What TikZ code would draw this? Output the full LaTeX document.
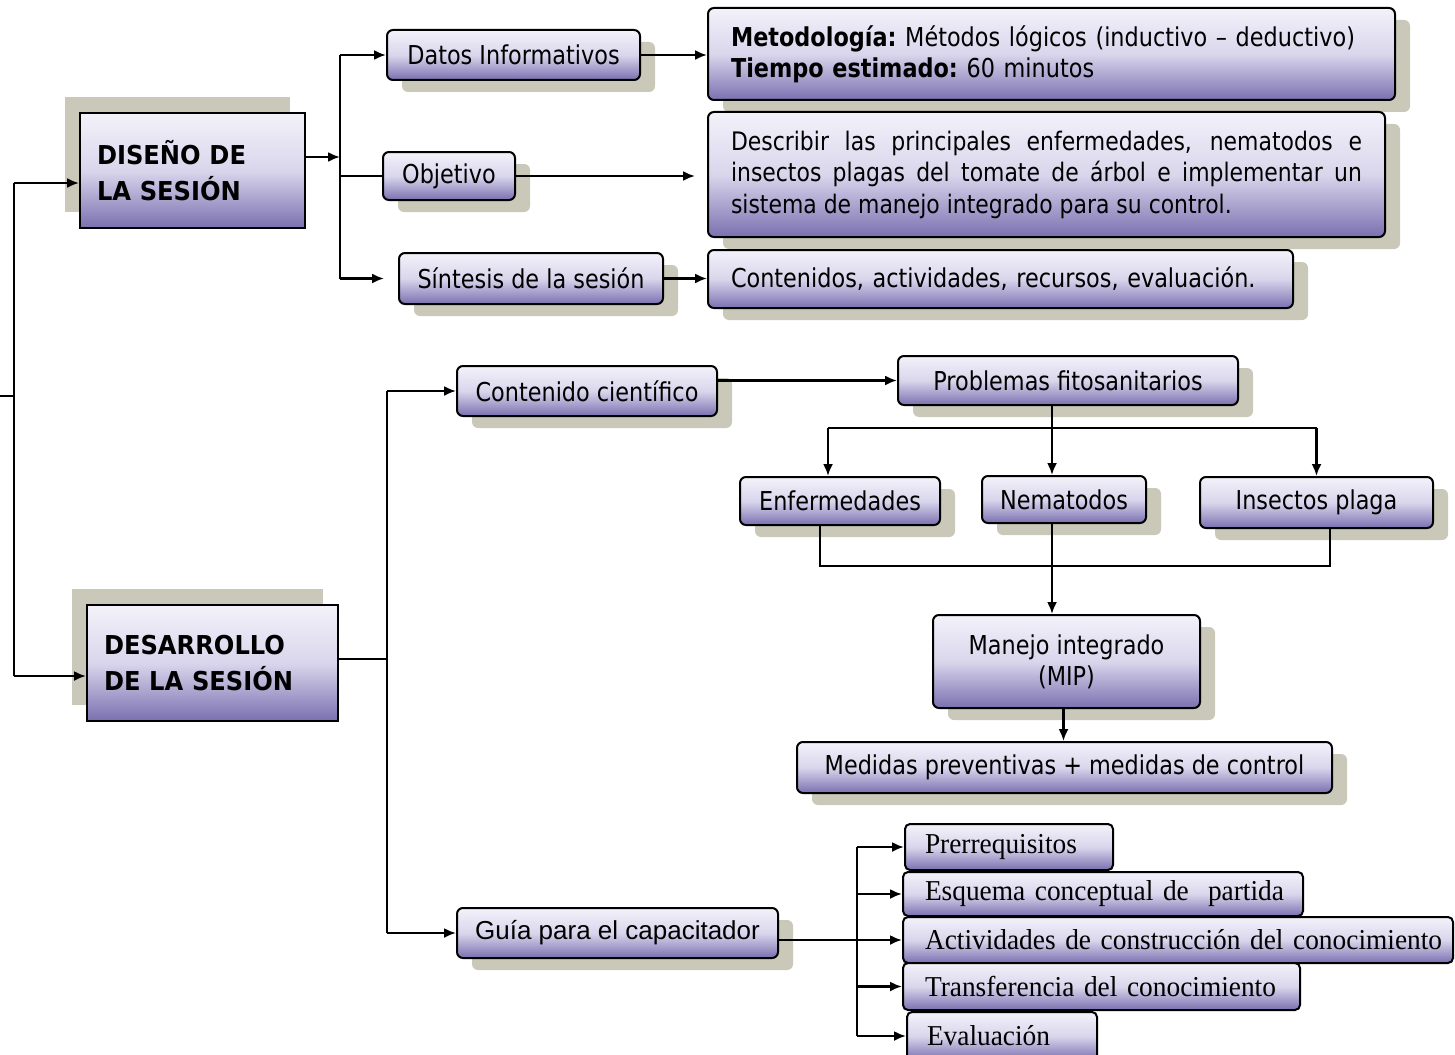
\documentclass[tikz,border=0pt]{standalone}
\usepackage{fontspec}
\setmainfont{DejaVu Sans}[FakeStretch=0.86]
\newfontfamily\titlefont{DejaVu Sans}[FakeStretch=0.93]
\newfontfamily\arialfont{Liberation Sans}
\newfontfamily\timesfont{Liberation Serif}[FakeStretch=0.95]
\usetikzlibrary{arrows.meta,shadows}
\definecolor{boxtop}{HTML}{F3F2FA}
\definecolor{boxmid}{HTML}{D9D6EC}
\definecolor{boxbot}{HTML}{7A70B0}
\definecolor{shadowc}{HTML}{C9C8B9}
\newcommand{\listtext}[1]{\raisebox{-4pt}{\mbox{#1}}}
\tikzset{
  basebox/.style={draw=black, line width=2pt, top color=boxtop, bottom color=boxbot, middle color=boxmid, inner sep=0pt},
  box/.style={basebox, rounded corners=6pt, font=\fontsize{26pt}{31pt}\selectfont,
    drop shadow={shadow xshift=15pt, shadow yshift=-12pt, fill=shadowc, opacity=1}},
  titlebox/.style={basebox, font=\titlefont\bfseries\fontsize{26pt}{36pt}\selectfont, align=left,
    drop shadow={shadow xshift=-15pt, shadow yshift=16pt, fill=shadowc, opacity=1}},
  listbox/.style={basebox, rounded corners=5pt, font=\timesfont\fontsize{28.8pt}{32pt}\selectfont, align=left},
  conn/.style={line width=2.2pt, black},
  arr/.style={conn, -{Latex[length=12pt,width=10pt]}},
}
\begin{document}
\begin{tikzpicture}[x=1pt,y=-1pt]
\useasboundingbox (0,0) rectangle (1455,1054);
\fill[white] (0,0) rectangle (1455,1054);

% title boxes
\node[titlebox, minimum width=225pt, minimum height=115pt, text width=191pt] (dis) at (192.5,170.5) {DISEÑO DE\\LA SESIÓN};
\node[titlebox, minimum width=251pt, minimum height=116pt, text width=217pt] (des) at (212.5,663) {DESARROLLO\\DE LA SESIÓN};

% upper branch
\node[box, minimum width=253pt, minimum height=50pt] (datos) at (513.5,55) {Datos Informativos};
\node[box, minimum width=687pt, minimum height=92pt, text width=641pt, align=left] (metod) at (1051.5,54)
  {\textbf{Metodología:}~Métodos lógicos (inductivo – deductivo)\\\textbf{Tiempo estimado:}~60 minutos};
\node[box, minimum width=132pt, minimum height=48pt] (obj) at (449,176) {Objetivo};
\node[box, minimum width=677pt, minimum height=125pt, text width=631pt, align=justify,
  font=\fontsize{25.5pt}{31.5pt}\selectfont] (desc) at (1046.5,174.5)
  {\hyphenpenalty=10000 Describir las principales enfermedades, nematodos e\linebreak insectos plagas del tomate de árbol e implementar un\linebreak sistema de manejo integrado para su control.};
\node[box, minimum width=264pt, minimum height=51pt] (sint) at (531,278.5) {Síntesis de la sesión};
\node[box, minimum width=585pt, minimum height=58pt, text width=539pt, align=left] (cont) at (1000.5,279)
  {Contenidos, actividades, recursos, evaluación.};

% lower branch
\node[box, minimum width=260pt, minimum height=50pt] (cc) at (587,391) {Contenido científico};
\node[box, minimum width=340pt, minimum height=49pt] (prob) at (1068,380.5) {Problemas fitosanitarios};
\node[box, minimum width=200pt, minimum height=48pt] (enf) at (840,501) {Enfermedades};
\node[box, minimum width=164pt, minimum height=47pt] (nem) at (1064,499.5) {Nematodos};
\node[box, minimum width=233pt, minimum height=51pt] (ins) at (1316.5,502.5) {Insectos plaga};
\node[box, minimum width=267pt, minimum height=93pt, align=center] (mip) at (1066.5,661.5) {Manejo integrado\\(MIP)};
\node[box, minimum width=535pt, minimum height=51pt] (med) at (1064.5,767.5) {Medidas preventivas + medidas de control};
\node[box, minimum width=321pt, minimum height=50pt, font=\arialfont\fontsize{26pt}{31pt}\selectfont] (guia) at (617.5,933) {Guía para el capacitador};

% list boxes
\node[listbox, minimum width=208pt, minimum height=46pt, text width=168pt] (pre) at (1009,847) {\listtext{Prerrequisitos}};
\node[listbox, minimum width=400pt, minimum height=44pt, text width=356pt] (esq) at (1103,894) {\listtext{Esquema conceptual de\ \ partida}};
\node[listbox, minimum width=550pt, minimum height=46pt, text width=506pt] (act) at (1178,940) {\listtext{Actividades de construcción del conocimiento}};
\node[listbox, minimum width=397pt, minimum height=47pt, text width=353pt] (tra) at (1101.5,986.5) {\listtext{Transferencia del conocimiento}};
\node[listbox, minimum width=190pt, minimum height=48pt, text width=150pt] (eva) at (1002,1036) {\listtext{Evaluación}};

% left connector
\coordinate (L1) at (14,183);
\coordinate (L2) at (14,676);
\coordinate (T0) at (0,396);
\draw[conn] (L1) -- (L2);
\draw[conn] (T0) -- (T0 -| L1);
\draw[arr] (L1) -- (dis.west |- L1);
\draw[arr] (L2) -- (des.west |- L2);

% diseño branch
\coordinate (B1) at (340,157);
\draw[arr] (dis.east |- B1) -- (B1);
\draw[conn] (B1 |- datos.west) -- (B1 |- sint.west);
\draw[arr] (B1 |- datos.west) -- (datos.west);
\draw[conn] (B1 |- obj.west) -- (obj.west);
\draw[arr] (B1 |- sint.west) -- ([xshift=-14pt]sint.west);
\draw[arr] (datos.east) -- (metod.west |- datos.east);
\draw[arr] (obj.east) -- ([xshift=-12pt]desc.west |- obj.east);
\draw[arr] (sint.east) -- (cont.west |- sint.east);

% desarrollo branch
\coordinate (B2) at (387,659);
\draw[conn] (des.east |- B2) -- (B2);
\draw[conn] (B2 |- cc.west) -- (B2 |- guia.west);
\draw[arr] (B2 |- cc.west) -- (cc.west);
\draw[arr] (B2 |- guia.west) -- (guia.west);
\draw[arr] (cc.east |- prob.west) -- (prob.west);

% problemas tree
\coordinate (CX) at (1052,428);
\coordinate (EX) at (828,428);
\draw[conn] (prob.south -| CX) -- (CX);
\draw[conn] (EX) -- (CX -| ins.north);
\draw[arr] (EX) -- (EX |- enf.north);
\draw[arr] (CX) -- (CX |- nem.north);
\draw[arr] (CX -| ins.north) -- (ins.north);

\coordinate (J1) at (820,566);
\coordinate (J2) at (1330,566);
\draw[conn] (J1 |- enf.south) -- (J1) -- (J2) -- (J2 |- ins.south);
\draw[arr] (CX |- nem.south) -- (CX |- mip.north);
\draw[arr] ([xshift=-3pt]mip.south) -- ([xshift=-3pt]mip.south |- med.north);

% guia branch
\coordinate (B3) at (857,940);
\draw[conn] (guia.east |- act.west) -- (B3);
\draw[conn] (B3 |- pre.west) -- (B3 |- eva.west);
\draw[arr] (B3 |- pre.west) -- (pre.west);
\draw[arr] (B3 |- esq.west) -- (esq.west);
\draw[arr] (B3) -- (act.west);
\draw[arr] (B3 |- tra.west) -- (tra.west);
\draw[arr] (B3 |- eva.west) -- (eva.west);
\end{tikzpicture}
\end{document}
